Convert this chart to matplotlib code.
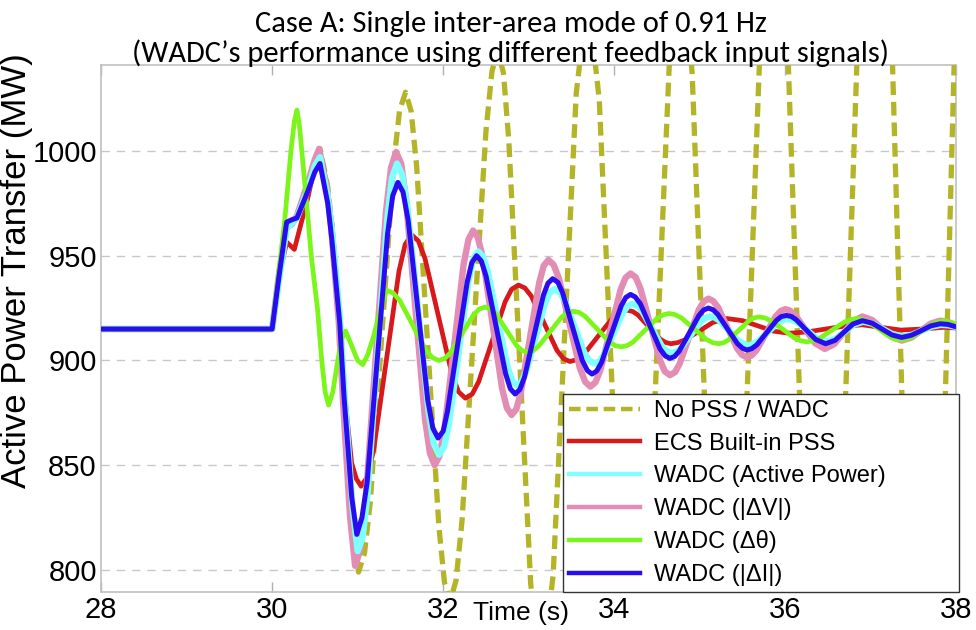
import matplotlib
matplotlib.use("Agg")
import matplotlib.pyplot as plt
import matplotlib.transforms as mtransforms

plt.rcParams['font.family'] = ['Liberation Sans', 'DejaVu Sans']

# ---------------- data ----------------
# No PSS / WADC
nopss_t = [28, 30.0, 30.08, 30.17, 30.23, 30.29, 30.42, 30.5, 30.56, 30.65, 30.7, 30.79, 30.85, 30.93,
           31.01, 31.08, 31.1475, 31.285, 31.4225, 31.49, 31.56, 31.625, 31.69, 31.82, 31.95, 32.015, 32.08,
           32.15, 32.22, 32.36, 32.5, 32.57, 32.64, 32.705, 32.7675, 32.895, 33.0225, 33.15, 33.285, 33.42,
           33.555, 33.69, 33.825, 33.96, 34.095, 34.23, 34.3675, 34.505, 34.6425, 34.78, 34.91, 35.04, 35.17,
           35.3, 35.4425, 35.585, 35.7275, 35.87, 36.01, 36.15, 36.29, 36.43, 36.5875, 36.745, 36.9025, 37.06,
           37.2, 37.34, 37.48, 37.62, 37.765, 37.91, 38.0]
nopss_mw = [915, 915, 941, 963, 965, 969, 985, 996, 1001, 983, 964, 918, 878, 822,
            799, 808, 832.4, 913.5, 994.6, 1019.3, 1028, 1019, 992.5, 906.5, 820.5, 794, 785,
            795, 823.4, 916.5, 1009.6, 1038, 1048, 1037, 1004.5, 899, 793.5, 750, 797.5, 912.5,
            1027.5, 1075, 1023.9, 900, 776.1, 725, 779, 910, 1041, 1095, 1037.3, 897.5, 757.7,
            700, 764.2, 920, 1075.8, 1140, 1070.6, 902.5, 734.4, 665, 743, 932.5, 1122, 1200,
            1116.8, 915, 713.2, 630, 722, 945, 1083]

# ECS built-in PSS
ecs_t = [28, 30.0, 30.08, 30.17, 30.26, 30.33, 30.42, 30.5, 30.55, 30.6,
         30.7, 30.78, 30.85, 30.93, 30.985, 31.04, 31.115, 31.1875, 31.335, 31.4825,
         31.555, 31.63, 31.71, 31.7875, 31.945, 32.1025, 32.18, 32.26, 32.34, 32.415,
         32.57, 32.725, 32.8, 32.88, 32.955, 33.03, 33.18, 33.33, 33.405, 33.48,
         33.565, 33.6475, 33.815, 33.9825, 34.065, 34.15, 34.215, 34.2775, 34.405, 34.5325,
         34.6, 34.66, 34.74, 34.825, 34.99, 35.155, 35.32, 35.5, 35.68, 35.86,
         36.04, 36.25, 36.47, 36.69, 36.9, 37.12, 37.35, 37.6, 37.85, 38.0]
ecs_mw = [915, 915, 940, 956.5, 953, 964, 978, 993, 998, 993,
          965, 926, 883, 851, 843.5, 840, 844.6, 857.5, 900, 942.5,
          955.4, 960, 957, 948.6, 921, 893.4, 885, 882, 884, 889.9,
          909, 928.1, 934, 936, 934.6, 930.7, 917.8, 904.8, 900.9, 899.5,
          900.4, 903.1, 911.8, 920.4, 923.1, 924, 923.4, 921.7, 916, 910.3,
          908.6, 908, 908.5, 909.8, 914, 918.2, 920, 919, 916.5, 914,
          913, 913.6, 915, 916.4, 917, 915.8, 914.5, 915, 915.8, 915.5]

# WADC (Active Power)
wp_t = [28, 30.0, 30.08, 30.17, 30.29, 30.42, 30.5, 30.56, 30.65, 30.7,
        30.79, 30.85, 30.94, 31.0, 31.06, 31.115, 31.23, 31.345, 31.4, 31.46,
        31.52, 31.58, 31.705, 31.83, 31.89, 31.95, 32.01, 32.065, 32.18, 32.295,
        32.35, 32.41, 32.465, 32.52, 32.635, 32.75, 32.805, 32.86, 32.915, 32.97,
        33.08, 33.19, 33.245, 33.3, 33.36, 33.42, 33.535, 33.65, 33.71, 33.77,
        33.825, 33.88, 33.99, 34.1, 34.155, 34.21, 34.27, 34.325, 34.44, 34.555,
        34.61, 34.67, 34.725, 34.78, 34.895, 35.01, 35.065, 35.12, 35.175, 35.23,
        35.345, 35.46, 35.57, 35.68, 35.795, 35.91, 36.02, 36.135, 36.25, 36.365,
        36.48, 36.59, 36.695, 36.8, 36.91, 37.025, 37.14, 37.255, 37.37, 37.48,
        37.595, 37.71, 37.82, 37.9, 38.0]
wp_mw = [915, 915, 938, 963, 968, 982, 993, 997, 978, 962,
         922, 882, 830, 809, 816, 836, 901.5, 967, 987, 994,
         988.7, 973.7, 924.5, 875.3, 860.3, 855, 858.7, 869.2, 903.5, 937.8,
         948.3, 952, 949.6, 942.7, 920, 897.3, 890.4, 888, 889.7, 894.7,
         911, 927.3, 932.3, 934, 932.7, 928.8, 916.2, 903.7, 899.8, 898.5,
         899.6, 902.7, 912.7, 922.8, 925.9, 927, 926.1, 923.6, 915.2, 906.9,
         904.4, 903.5, 904.2, 906, 912.2, 918.4, 920.3, 921, 920.5, 919,
         914, 909, 907, 909, 913.5, 918, 920, 918.4, 914.5, 910.6,
         909, 910.4, 913.8, 917.1, 918.5, 917.5, 915, 912.5, 911.5, 912.3,
         914.2, 916.2, 917, 916.8, 916]

# WADC (|dV|)
wv_t = [28, 30.0, 30.08, 30.17, 30.23, 30.29, 30.42, 30.5, 30.55, 30.64,
        30.69, 30.78, 30.83, 30.91, 30.97, 31.03, 31.09, 31.21, 31.33, 31.39,
        31.45, 31.51, 31.5625, 31.675, 31.7875, 31.845, 31.9, 31.955, 32.0125, 32.125,
        32.2375, 32.295, 32.35, 32.405, 32.4625, 32.575, 32.6875, 32.745, 32.8, 32.855,
        32.9075, 33.015, 33.1225, 33.175, 33.23, 33.29, 33.3525, 33.475, 33.5975, 33.66,
        33.72, 33.78, 33.8375, 33.955, 34.0725, 34.13, 34.19, 34.25, 34.305, 34.42,
        34.535, 34.59, 34.65, 34.71, 34.7625, 34.875, 34.9875, 35.045, 35.1, 35.155,
        35.2125, 35.325, 35.4375, 35.495, 35.55, 35.605, 35.6625, 35.775, 35.8875, 35.945,
        36.0, 36.055, 36.115, 36.23, 36.345, 36.46, 36.57, 36.68, 36.79, 36.9,
        37.015, 37.13, 37.245, 37.36, 37.4725, 37.585, 37.6975, 37.81, 37.9, 38.0]
wv_mw = [915, 915, 941, 964, 965, 969, 985, 996, 1001, 982,
         964, 918, 880, 826, 802, 809.5, 830.8, 900.8, 970.7, 992,
         999.5, 993.8, 977.7, 924.8, 871.8, 855.7, 850, 854.3, 866.4, 906,
         945.6, 957.7, 962, 958.7, 949.2, 918, 886.8, 877.3, 874, 876.8,
         884.8, 911, 937.2, 945.2, 948, 945.7, 939.2, 917.8, 896.3, 889.8,
         887.5, 889.6, 895.4, 914.5, 933.6, 939.4, 941.5, 939.7, 934.4, 917.2,
         900.1, 894.8, 893, 894.4, 898.3, 911.2, 924.2, 928.1, 929.5, 928.4,
         925.4, 915.5, 905.6, 902.6, 901.5, 902.4, 904.9, 913, 921.1, 923.6,
         924.5, 923.8, 921.7, 915, 908.3, 905.5, 907.8, 913.2, 918.7, 921,
         919.3, 915.2, 911.2, 909.5, 910.9, 914.2, 917.6, 919, 918.5, 916.5]

# WADC (d theta)
wt_t = [28, 30.0, 30.08, 30.15, 30.22, 30.26, 30.29, 30.32, 30.39, 30.46,
        30.53, 30.58, 30.62, 30.66, 30.71, 30.76, 30.81, 30.86, 30.92, 31.0,
        31.06, 31.12, 31.19, 31.27, 31.34, 31.415, 31.4925, 31.645, 31.7975, 31.875,
        31.95, 32.02, 32.085, 32.22, 32.355, 32.42, 32.49, 32.55, 32.6125, 32.735,
        32.8575, 32.92, 32.98, 33.05, 33.115, 33.25, 33.385, 33.45, 33.52, 33.59,
        33.66, 33.8, 33.94, 34.01, 34.08, 34.15, 34.22, 34.36, 34.5, 34.57,
        34.64, 34.71, 34.785, 34.93, 35.075, 35.15, 35.22, 35.28, 35.3375, 35.455,
        35.5725, 35.63, 35.69, 35.76, 35.83, 35.97, 36.11, 36.18, 36.25, 36.32,
        36.3975, 36.545, 36.6925, 36.77, 36.84, 36.9, 36.9675, 37.095, 37.2225, 37.29,
        37.35, 37.41, 37.475, 37.6, 37.725, 37.85, 38.0]
wt_mw = [915, 915, 943, 968, 1000, 1014, 1019.5, 1012, 981, 949,
         925, 900, 885, 878.7, 885, 898, 910, 914, 908, 900,
         898, 903, 912, 925, 933.5, 932.2, 928.6, 916.8, 904.9, 901.3,
         900, 901, 903.7, 912.8, 921.8, 924.5, 925.5, 924.7, 922.4, 914.8,
         907.1, 904.8, 904, 904.7, 906.8, 913.8, 920.7, 922.8, 923.5, 922.9,
         921, 915, 909, 907.1, 906.5, 907.1, 908.8, 914.5, 920.1, 921.8,
         922.4, 921.9, 920.3, 915.2, 910.1, 908.5, 908, 908.5, 909.9, 914.4,
         918.9, 920.3, 920.8, 920.3, 919, 914.9, 910.6, 909.4, 908.9, 909.4,
         910.5, 914.5, 918.4, 919.6, 920, 919.6, 918.5, 914.9, 911.2, 910.1,
         909.7, 910.1, 911, 914.3, 917.6, 919, 917.5]

# WADC (|dI|)
wi_t = [28, 30.0, 30.08, 30.17, 30.22, 30.29, 30.42, 30.5, 30.56, 30.65,
        30.7, 30.79, 30.84, 30.93, 30.99, 31.05, 31.11, 31.23, 31.35, 31.41,
        31.47, 31.53, 31.59, 31.705, 31.82, 31.88, 31.94, 32.0, 32.05, 32.165,
        32.28, 32.335, 32.39, 32.445, 32.5, 32.615, 32.73, 32.785, 32.84, 32.895,
        32.95, 33.06, 33.17, 33.225, 33.28, 33.34, 33.395, 33.51, 33.625, 33.685,
        33.74, 33.795, 33.85, 33.965, 34.08, 34.135, 34.19, 34.245, 34.305, 34.42,
        34.535, 34.595, 34.65, 34.705, 34.76, 34.875, 34.99, 35.045, 35.1, 35.155,
        35.21, 35.325, 35.44, 35.5, 35.55, 35.605, 35.665, 35.78, 35.895, 35.95,
        36.01, 36.07, 36.125, 36.24, 36.355, 36.47, 36.58, 36.685, 36.79, 36.9,
        37.015, 37.13, 37.245, 37.36, 37.47, 37.585, 37.7, 37.81, 37.9, 38.0]
wi_mw = [915, 915, 940, 966, 967, 968, 981, 990, 994, 975,
         957, 918, 883, 835, 817, 825, 841.5, 901, 960.5, 978.6,
         985, 980.4, 967, 924, 881, 867.6, 863, 866.3, 875.7, 906.5,
         937.3, 946.7, 950, 947.5, 940.4, 917, 893.6, 886.5, 884, 886.1,
         892, 911.5, 931, 936.9, 939, 937.3, 932.4, 916.2, 900.1, 895.2,
         893.5, 895, 899, 912.5, 926, 930.1, 931.5, 930.3, 927, 916.2,
         905.5, 902.2, 901, 901.9, 904.5, 913, 921.5, 924.1, 925, 924.2,
         922, 915, 908, 905.8, 905, 905.6, 907.4, 913.2, 919.1, 920.9,
         921.5, 921, 919.5, 914.7, 910, 908, 909.6, 913.5, 917.4, 919,
         917.8, 915, 912.2, 911, 912, 914.2, 916.5, 917.5, 917.2, 916]

labels = ["No PSS / WADC", "ECS Built-in PSS", "WADC (Active Power)",
          "WADC (|\u0394V|)", "WADC (\u0394\u03b8)", "WADC (|\u0394I|)"]
x_ticks = [28, 30, 32, 34, 36, 38]
y_ticks = [800, 850, 900, 950, 1000]
title_line1 = "Case A: Single inter-area mode of 0.91 Hz"
title_line2 = "(WADC\u2019s performance using different feedback input signals)"

# ---------------- figure ----------------
fig = plt.figure(figsize=(9.76, 6.30), dpi=100)
ax = fig.add_axes([0.1035, 0.0603, 0.8765, 0.8365])

c_olive = "#b4b428"
c_red = "#d7191c"
c_cyan = "#80ffff"
c_pink = "#e38cb4"
c_green = "#7cf51a"
c_blue = "#2a0cf0"

ax.plot(nopss_t, nopss_mw, color=c_olive, lw=3.8, dashes=(2.6, 1.3), dash_capstyle='butt',
        label=labels[0], zorder=3)
ax.plot(ecs_t, ecs_mw, color=c_red, lw=3.4, label=labels[1], zorder=4)
ax.plot(wv_t, wv_mw, color=c_pink, lw=4.6, label=labels[3], zorder=5)
ax.plot(wp_t, wp_mw, color=c_cyan, lw=4.6, label=labels[2], zorder=6)
ax.plot(wt_t, wt_mw, color=c_green, lw=3.4, label=labels[4], zorder=7)
ax.plot(wi_t, wi_mw, color=c_blue, lw=3.6, label=labels[5], zorder=8)

ax.set_xlim(28, 38)
ax.set_ylim(789.5, 1041)
ax.set_xticks(x_ticks)
ax.set_yticks(y_ticks)
ax.tick_params(axis='x', direction='in', length=7, width=1, color='#b0b0b0', top=True,
               labelsize=21, pad=3)
ax.tick_params(axis='y', direction='in', length=0, labelsize=21, pad=3)
ax.yaxis.grid(True, linestyle=(0, (6, 5)), color='#c8c8c8', lw=1.0)
ax.set_axisbelow(True)
for s in ax.spines.values():
    s.set_color('#c0c0c0')
    s.set_linewidth(1.2)

ax.set_ylabel("Active Power Transfer (MW)", fontsize=25)
ax.yaxis.set_label_coords(-0.079, 0.61)

trans = mtransforms.blended_transform_factory(ax.transData, ax.transAxes)
ax.text(32.91, -0.018, "Time (s)", transform=trans, ha='center', va='top', fontsize=19)

title_font = ['Carlito', 'Lato', 'DejaVu Sans']
fig.text(0.523, 1 - 32 / 630, title_line1, ha='center', va='baseline', fontsize=22,
         family=title_font)
fig.text(0.523, 1 - 62 / 630, title_line2, ha='center', va='baseline', fontsize=22,
         family=title_font)

handles, labs = ax.get_legend_handles_labels()
order = [labs.index(l) for l in labels]
leg_x0 = 0.540
leg = ax.legend([handles[i] for i in order], [labs[i] for i in order],
                loc='lower left', bbox_to_anchor=(leg_x0, 0.0, 1.003 - leg_x0, 0.38),
                mode='expand', borderaxespad=0,
                fontsize=17, handlelength=3.0, handletextpad=0.6, labelspacing=0.45,
                borderpad=0.25, fancybox=False, framealpha=1, edgecolor='#333333')
leg.get_frame().set_linewidth(1.0)
for l in leg.get_lines():
    l.set_linewidth(3.2)

fig.savefig("out.png", dpi=100)
